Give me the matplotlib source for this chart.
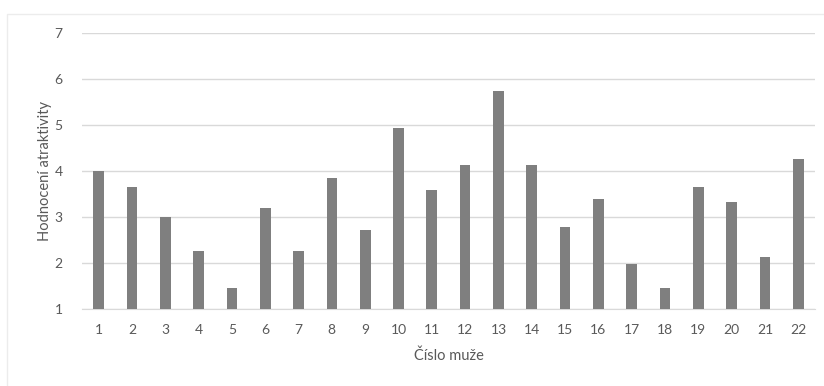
import matplotlib
matplotlib.use("Agg")
import matplotlib.pyplot as plt
from matplotlib.patches import Rectangle

# hodnoceni atraktivity pro kazdeho muze
men = [str(i) for i in range(1, 23)]
ratings = [4.0, 3.65, 3.0, 2.25, 1.45, 3.2, 2.25, 3.85, 2.72, 4.93, 3.59,
           4.12, 5.73, 4.12, 2.78, 3.39, 1.98, 1.45, 3.65, 3.32, 2.12, 4.25]
y_ticks = [1, 2, 3, 4, 5, 6, 7]

BAR_COLOR = "#7f7f7f"
TEXT_COLOR = "#595959"
GRID_COLOR = "#d9d9d9"

plt.rcParams["font.family"] = ["Lato", "DejaVu Sans"]

fig = plt.figure(figsize=(8.24, 3.86), dpi=100)
ax = fig.add_axes([0.0995, 0.1995, 0.8895, 0.715])

# light frame around the chart area
fig.patches.append(Rectangle((7 / 824, -0.1), 1.2, (386 - 14) / 386 + 0.1,
                             transform=fig.transFigure, fill=False,
                             edgecolor="#ececec", linewidth=1.0))

x = list(range(len(men)))
base = y_ticks[0]
ax.bar(x, [r - base for r in ratings], bottom=base, width=0.32,
       color=BAR_COLOR, zorder=3)

ax.set_xlim(-0.5, len(men) - 0.5)
ax.set_ylim(y_ticks[0], y_ticks[-1])
ax.set_xticks(x)
ax.set_xticklabels(men)
ax.set_yticks(y_ticks)
ax.grid(axis="y", color=GRID_COLOR, linewidth=1.0, zorder=0)
ax.set_axisbelow(True)

for side in ["top", "right", "left"]:
    ax.spines[side].set_visible(False)
ax.spines["bottom"].set_color(GRID_COLOR)
ax.tick_params(axis="both", length=0, labelsize=10, colors=TEXT_COLOR)
ax.tick_params(axis="x", pad=11)
ax.tick_params(axis="y", pad=14)

ax.set_xlabel("Číslo muže", fontsize=10.5, color=TEXT_COLOR, labelpad=9)
ax.set_ylabel("Hodnocení atraktivity", fontsize=10.5, color=TEXT_COLOR, labelpad=2)

fig.savefig("out.png", dpi=100, facecolor="white")
